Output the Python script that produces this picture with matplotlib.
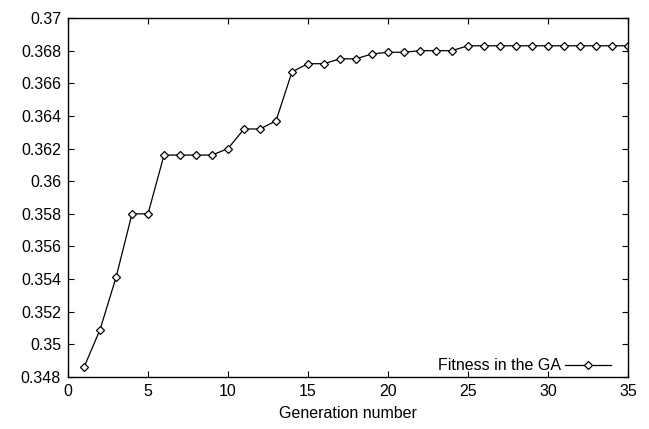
import matplotlib
matplotlib.use('Agg')
import matplotlib.pyplot as plt

generations = list(range(1, 36))
fitness = [0.3486, 0.3509, 0.3541, 0.3580, 0.3580, 0.3616, 0.3616, 0.3616, 0.3616,
           0.3620, 0.3632, 0.3632, 0.3637, 0.3667, 0.3672, 0.3672, 0.3675, 0.3675,
           0.3678, 0.3679, 0.3679, 0.3680, 0.3680, 0.3680, 0.3683, 0.3683, 0.3683,
           0.3683, 0.3683, 0.3683, 0.3683, 0.3683, 0.3683, 0.3683, 0.3683]
xticks = [0, 5, 10, 15, 20, 25, 30, 35]
yticks = [0.348, 0.35, 0.352, 0.354, 0.356, 0.358, 0.36, 0.362, 0.364, 0.366, 0.368, 0.37]
ytick_labels = ['0.348', '0.35', '0.352', '0.354', '0.356', '0.358', '0.36', '0.362',
                '0.364', '0.366', '0.368', '0.37']

plt.rcParams['font.family'] = ['Liberation Sans', 'DejaVu Sans']
fs = 11.5

fig = plt.figure(figsize=(6.49, 4.29), dpi=100)
ax = fig.add_axes([0.1048, 0.1212, 0.8628, 0.8368])

ax.plot(generations, fitness, color='black', linewidth=0.9, marker='D', markersize=3.8,
        markerfacecolor='white', markeredgecolor='black', markeredgewidth=0.9,
        label='Fitness in the GA')

ax.set_xlim(0, 35)
ax.set_ylim(0.348, 0.37)
ax.set_xticks(xticks)
ax.set_yticks(yticks)
ax.set_yticklabels(ytick_labels)
ax.tick_params(direction='in', top=True, right=True, labelsize=fs, length=4, width=0.8, pad=5)
ax.set_xlabel('Generation number', fontsize=fs, labelpad=5)
for s in ax.spines.values():
    s.set_linewidth(1)

ax.legend(loc='center right', bbox_to_anchor=(0.981, 0.031), frameon=False,
          markerfirst=False, fontsize=fs, handlelength=2.9, handletextpad=0.25,
          borderaxespad=0)

fig.savefig('out.png', dpi=100)
